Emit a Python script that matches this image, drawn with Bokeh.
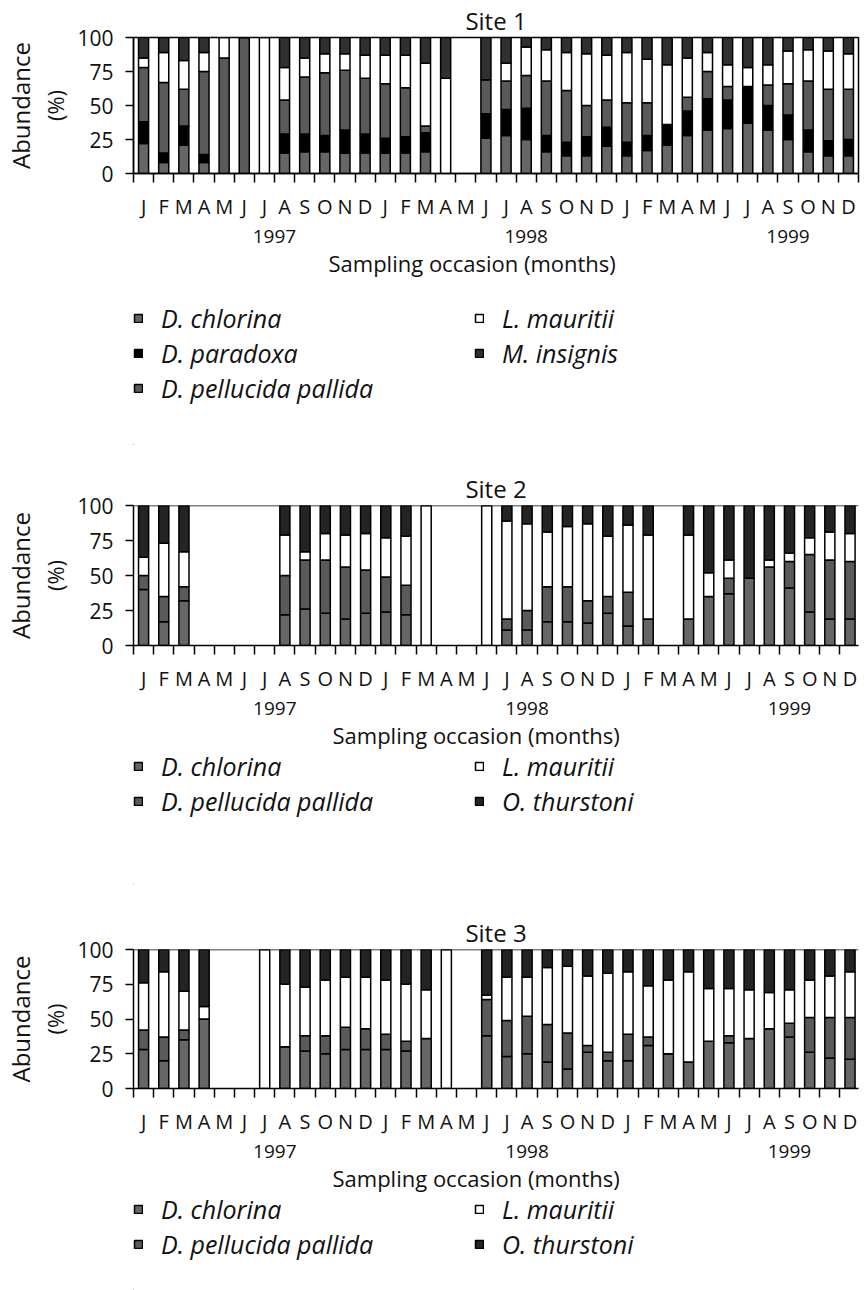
from bokeh.plotting import figure
from bokeh.models import (ColumnDataSource, FixedTicker, LinearAxis, Title, Legend,
                          LegendItem, Span, Range1d)
from bokeh.layouts import column
from bokeh.embed import file_html
from bokeh.resources import INLINE

FONT = "Open Sans"
INK = "#111111"

# Sampling months Jan 1997 - Dec 1999 (index 0..35); None = not sampled
MONTH_LETTERS = list("JFMAMJJASOND") * 3
YEAR_POS = [7.0, 19.5, 32.5]
YEAR_LABELS = ["1997", "1998", "1999"]

# ---- Site 1 (% abundance) ----
s1_chlorina = [22, 8, 21, 8, 0, 0, 0, 15, 16, 16, 15, 15, 15, 15, 16, 0, None, 26,
               28, 25, 16, 13, 13, 20, 13, 17, 21, 28, 32, 33, 37, 32, 25, 16, 13, 13]
s1_paradoxa = [16, 7, 14, 6, 0, 0, 0, 14, 13, 12, 17, 14, 11, 12, 14, 0, None, 18,
               19, 23, 12, 10, 14, 14, 10, 11, 15, 18, 23, 21, 27, 18, 18, 16, 11, 12]
s1_pellucida = [40, 52, 27, 61, 85, 100, 0, 25, 42, 46, 44, 41, 40, 36, 5, 0, None, 25,
                21, 24, 40, 38, 23, 20, 29, 24, 0, 10, 20, 10, 0, 15, 23, 36, 38, 37]
s1_mauritii = [7, 22, 21, 14, 15, 0, 100, 24, 14, 14, 12, 17, 21, 24, 46, 70, None, 0,
               13, 21, 23, 28, 38, 33, 37, 32, 44, 29, 14, 16, 14, 15, 24, 23, 28, 26]
s1_insignis = [15, 11, 17, 11, 0, 0, 0, 22, 15, 12, 12, 13, 13, 13, 19, 30, None, 31,
               19, 7, 9, 11, 12, 13, 11, 16, 20, 15, 11, 20, 22, 20, 10, 9, 10, 12]

# ---- Site 2 ----
s2_chlorina = [40, 17, 32, None, None, None, None, 22, 26, 23, 19, 23, 24, 22, 0, None, None, 0,
               11, 11, 17, 17, 16, 23, 14, 19, None, 19, 35, 37, 48, 56, 41, 24, 19, 19]
s2_pellucida = [10, 18, 10, None, None, None, None, 28, 35, 38, 37, 31, 25, 21, 0, None, None, 0,
                8, 14, 25, 25, 16, 12, 24, 0, None, 0, 0, 11, 0, 0, 19, 41, 42, 41]
s2_mauritii = [13, 38, 25, None, None, None, None, 29, 6, 19, 23, 26, 28, 35, 100, None, None, 100,
               70, 62, 39, 43, 55, 43, 48, 60, None, 60, 17, 13, 0, 5, 6, 12, 20, 20]
s2_thurstoni = [37, 27, 33, None, None, None, None, 21, 33, 20, 21, 20, 23, 22, 0, None, None, 0,
                11, 13, 19, 15, 13, 22, 14, 21, None, 21, 48, 39, 52, 39, 34, 23, 19, 20]

# ---- Site 3 ----
s3_chlorina = [28, 20, 35, 50, None, None, 0, 30, 27, 25, 28, 28, 28, 27, 36, 0, None, 38,
               23, 25, 19, 14, 26, 20, 20, 31, 25, 19, 34, 33, 36, 43, 37, 26, 22, 21]
s3_pellucida = [14, 17, 7, 0, None, None, 0, 0, 11, 13, 16, 15, 11, 7, 0, 0, None, 26,
                26, 27, 27, 26, 5, 6, 19, 6, 0, 0, 0, 5, 0, 0, 10, 25, 29, 30]
s3_mauritii = [34, 47, 28, 9, None, None, 100, 45, 35, 40, 36, 37, 39, 41, 35, 100, None, 3,
               31, 28, 41, 48, 50, 57, 45, 37, 53, 65, 38, 34, 35, 26, 24, 27, 30, 33]
s3_thurstoni = [24, 16, 30, 41, None, None, 0, 25, 27, 22, 20, 20, 22, 25, 29, 0, None, 33,
                20, 20, 13, 12, 19, 17, 16, 26, 22, 16, 28, 28, 29, 31, 29, 22, 19, 16]

C_CHLORINA = "#666666"
C_PARADOXA = "#000000"
C_PELLUCIDA = "#5a5a5a"
C_MAURITII = "#ffffff"
C_INSIGNIS = "#303030"
C_THURSTONI = "#242424"

SITE1_NAMES = ["D. chlorina", "D. paradoxa", "D. pellucida pallida", "L. mauritii", "M. insignis"]
SITE23_NAMES = ["D. chlorina", "D. pellucida pallida", "L. mauritii", "O. thurstoni"]


def site_chart(title, series, colors, height, left, top, bottom, right, x_end, boxed):
    keep = [k for k in range(36) if series[0][k] is not None]
    keys = ["s%d" % i for i in range(len(series))]
    data = {"x": [k + 0.5 for k in keep]}
    for key, vals in zip(keys, series):
        data[key] = [vals[k] for k in keep]
    src = ColumnDataSource(data)

    p = figure(width=868, height=height, x_range=Range1d(0, x_end), y_range=Range1d(0, 100),
               output_backend="svg", toolbar_location=None,
               min_border_left=left, min_border_right=right,
               min_border_top=top, min_border_bottom=bottom)
    p.background_fill_color = "white"
    p.border_fill_color = "white"
    p.xgrid.visible = False
    p.ygrid.visible = False
    if boxed:
        p.outline_line_color = "black"
        p.outline_line_width = 1.5
    else:
        p.outline_line_color = None
        p.add_layout(Span(location=100, dimension="width", line_color="black", line_width=1.5))

    p.vbar_stack(keys, x="x", width=0.5, source=src, fill_color=colors,
                 line_color="black", line_width=1.5)

    p.title.text = title
    p.title.align = "center"
    p.title.text_font = FONT
    p.title.text_font_size = "24px"
    p.title.text_font_style = "normal"
    p.title.text_color = INK
    p.title.standoff = 1

    ya = p.yaxis[0]
    ya.ticker = FixedTicker(ticks=[0, 25, 50, 75, 100])
    ya.major_tick_out = 8
    ya.major_tick_in = 0
    ya.major_tick_line_width = 1.5
    ya.minor_tick_line_color = None
    ya.axis_line_width = 1.5
    ya.major_label_text_font = FONT
    ya.major_label_text_font_size = "21px"
    ya.major_label_text_color = INK
    ya.major_label_standoff = 12
    ya.axis_label = "(%)"
    ya.axis_label_text_font = FONT
    ya.axis_label_text_font_size = "22px"
    ya.axis_label_text_font_style = "normal"
    ya.axis_label_text_color = INK
    ya.axis_label_standoff = 4
    p.add_layout(Title(text="Abundance", align="center", text_font=FONT, text_color=INK,
                       text_font_size="24px", text_font_style="normal", standoff=2), "left")

    # month boundaries as tick marks, month initials centred under each bar
    xa = p.xaxis[0]
    xa.ticker = FixedTicker(ticks=[k + 0.5 for k in range(36)], minor_ticks=list(range(37)))
    xa.major_label_overrides = {k + 0.5: MONTH_LETTERS[k] for k in range(36)}
    xa.major_tick_line_color = None
    xa.major_tick_out = 0
    xa.major_tick_in = 0
    xa.minor_tick_line_color = "black"
    xa.minor_tick_line_width = 1.5
    xa.minor_tick_out = 9
    xa.minor_tick_in = 0
    xa.axis_line_width = 1.5
    xa.major_label_text_font = FONT
    xa.major_label_text_font_size = "20px"
    xa.major_label_text_color = INK
    xa.major_label_standoff = 10

    yr = LinearAxis(ticker=FixedTicker(ticks=YEAR_POS),
                    major_label_overrides=dict(zip(YEAR_POS, YEAR_LABELS)))
    yr.axis_line_color = None
    yr.major_tick_line_color = None
    yr.minor_tick_line_color = None
    yr.major_tick_out = 0
    yr.major_tick_in = 0
    yr.major_label_text_font = FONT
    yr.major_label_text_font_size = "19px"
    yr.major_label_text_color = INK
    yr.major_label_standoff = 7
    p.add_layout(yr, "below")

    p.add_layout(Title(text="Sampling occasion (months)", align="left", offset=327 - left,
                       text_font=FONT, text_font_size="22px", text_font_style="normal",
                       text_color=INK, standoff=0), "below")
    return p


def legend_box(names, colors, height, top, nrows):
    p = figure(width=868, height=height, x_range=Range1d(0, 1), y_range=Range1d(0, 1),
               output_backend="svg", toolbar_location=None, x_axis_type=None, y_axis_type=None,
               min_border_left=111, min_border_right=0, min_border_top=top, min_border_bottom=0)
    p.outline_line_color = None
    p.border_fill_color = "white"
    p.xgrid.visible = False
    p.ygrid.visible = False
    items = []
    for n, c in zip(names, colors):
        # swatch renderer sits outside the visible range; only its legend glyph shows
        r = p.vbar(x=[-5], top=[0], width=0.5, fill_color=c, line_color="black", line_width=1.5)
        items.append(LegendItem(label=n, renderers=[r]))
    leg = Legend(items=items, orientation="vertical", nrows=nrows, location="top_left",
                 glyph_width=10, glyph_height=10, label_standoff=18, spacing=1,
                 padding=0, margin=0, label_width=312, label_height=30,
                 border_line_color=None, background_fill_alpha=0,
                 label_text_font=FONT, label_text_font_style="italic",
                 label_text_font_size="25px", label_text_color=INK)
    p.add_layout(leg, "center")
    return p


BOTTOM = 104

c1 = site_chart("Site 1", [s1_chlorina, s1_paradoxa, s1_pellucida, s1_mauritii, s1_insignis],
                [C_CHLORINA, C_PARADOXA, C_PELLUCIDA, C_MAURITII, C_INSIGNIS],
                height=173 + BOTTOM, left=132, top=37, bottom=BOTTOM, right=10, x_end=36, boxed=True)
l1 = legend_box(SITE1_NAMES, [C_CHLORINA, C_PARADOXA, C_PELLUCIDA, C_MAURITII, C_INSIGNIS],
                height=445 - 173 - BOTTOM, top=301 - 173 - BOTTOM, nrows=3)

c2 = site_chart("Site 2", [s2_chlorina, s2_pellucida, s2_mauritii, s2_thurstoni],
                [C_CHLORINA, C_PELLUCIDA, C_MAURITII, C_THURSTONI],
                height=645 + BOTTOM - 445, left=128, top=505 - 445, bottom=BOTTOM, right=0,
                x_end=35.92, boxed=False)
l2 = legend_box(SITE23_NAMES, [C_CHLORINA, C_PELLUCIDA, C_MAURITII, C_THURSTONI],
                height=885 - 645 - BOTTOM, top=0, nrows=2)

c3 = site_chart("Site 3", [s3_chlorina, s3_pellucida, s3_mauritii, s3_thurstoni],
                [C_CHLORINA, C_PELLUCIDA, C_MAURITII, C_THURSTONI],
                height=1088 + BOTTOM - 885, left=128, top=949 - 885, bottom=BOTTOM, right=0,
                x_end=35.92, boxed=False)
l3 = legend_box(SITE23_NAMES, [C_CHLORINA, C_PELLUCIDA, C_MAURITII, C_THURSTONI],
                height=1290 - 1088 - BOTTOM, top=0, nrows=2)

page = column(c1, l1, c2, l2, c3, l3, spacing=0)
open("out.html", "w").write(file_html(page, INLINE))
